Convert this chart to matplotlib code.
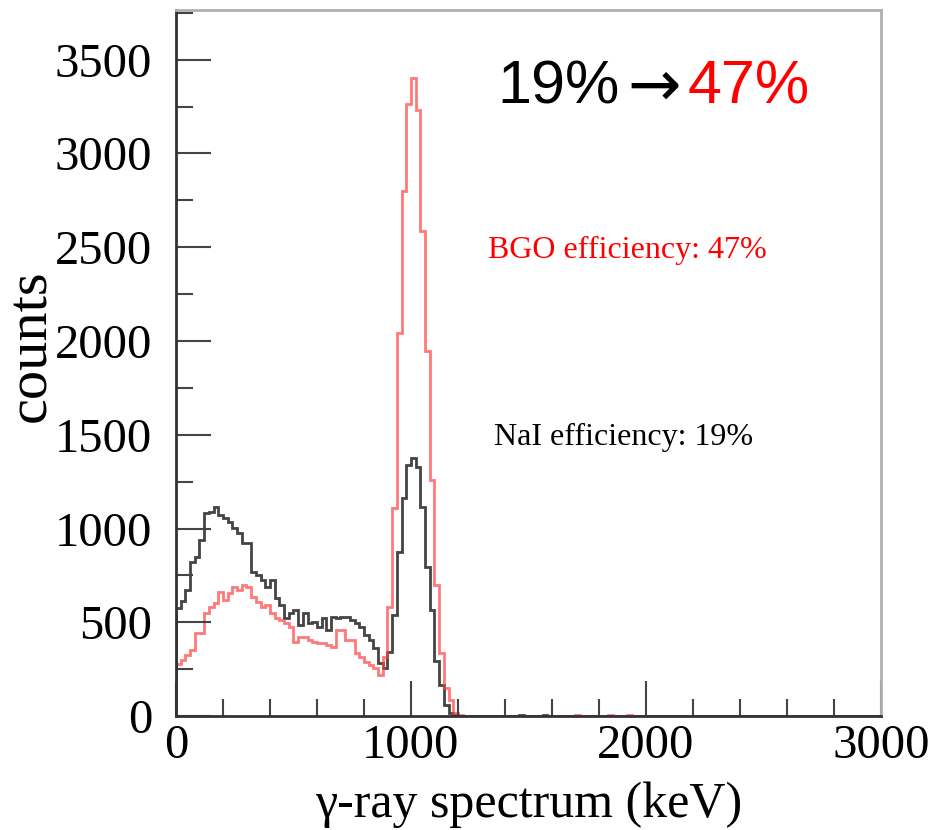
import matplotlib
matplotlib.use("Agg")
import matplotlib.pyplot as plt
import numpy as np

# 20 keV bins from 0 to 3000 keV
bin_width = 20
n_bins = 150

# counts per bin (first bins only, rest ~0)
nai_counts = [
    575, 615, 672, 824, 850, 939, 1081, 1090, 1117, 1073,
    1055, 1037, 1001, 975, 925, 925, 770, 752, 726, 690,
    726, 628, 592, 521, 548, 566, 486, 548, 495, 503,
    477, 521, 459, 530, 521, 530, 530, 512, 495, 477,
    432, 405, 361, 281, 254, 342, 539, 875, 1163, 1339,
    1377, 1329, 1116, 795, 566, 293, 165, 59, 16, 4,
]
bgo_counts = [
    280, 300, 325, 352, 441, 441, 548, 583, 601, 663,
    619, 655, 690, 672, 699, 690, 637, 610, 583, 592,
    548, 521, 512, 495, 477, 397, 423, 423, 405, 397,
    388, 388, 379, 370, 459, 459, 405, 405, 334, 317,
    290, 272, 254, 219, 315, 582, 1110, 2044, 2802, 3266,
    3400, 3234, 2588, 1948, 1259, 699, 336, 149, 85, 16,
    5,
]
# isolated single counts in the tail: (bin index, counts)
nai_tail = [(73, 6), (78, 6)]
bgo_tail = [(85, 6), (92, 6), (96, 6)]

x_ticks = [0, 1000, 2000, 3000]
y_ticks = [0, 500, 1000, 1500, 2000, 2500, 3000, 3500]


def full_hist(head, tail):
    vals = np.zeros(n_bins)
    vals[: len(head)] = head
    for i, v in tail:
        vals[i] = v
    return vals


edges = np.arange(n_bins + 1) * bin_width
nai = full_hist(nai_counts, nai_tail)
bgo = full_hist(bgo_counts, bgo_tail)

fig = plt.figure(figsize=(9.33, 8.3), dpi=100)
ax = fig.add_axes([0.1886, 0.1373, 0.7555, 0.8507])

ax.stairs(nai, edges, color="#444444", lw=2.0)
ax.stairs(bgo, edges, color="#ff4040", lw=2.0, alpha=0.7)

ax.set_xlim(0, 3000)
ax.set_ylim(0, 3765)
ax.set_xticks(x_ticks)
ax.set_yticks(y_ticks)
ax.set_xticks(np.arange(0, 3001, 200), minor=True)
ax.set_yticks(np.arange(0, 3751, 250), minor=True)

serif = ["Liberation Serif", "DejaVu Serif"]
for lab in ax.get_xticklabels() + ax.get_yticklabels():
    lab.set_fontfamily(serif)
    lab.set_fontsize(35)

ax.tick_params(which="both", direction="in", top=False, right=False,
               color="#444444", width=1.5)
ax.tick_params(which="major", length=25)
ax.tick_params(which="minor", length=12)
ax.tick_params(axis="x", which="major", pad=6)
ax.tick_params(axis="y", which="major", pad=17)

for side in ("left", "bottom"):
    ax.spines[side].set_color("#333333")
    ax.spines[side].set_linewidth(2)
for side in ("top", "right"):
    ax.spines[side].set_color("#b0b0b0")
    ax.spines[side].set_linewidth(2)

ax.set_xlabel("\u03b3-ray spectrum (keV)", family=serif, fontsize=36, va="top")
ax.xaxis.set_label_coords(0.5, -0.093)
ax.set_ylabel("counts", family=serif, fontsize=42)
ax.yaxis.set_label_coords(-0.168, 0.525)

ax.text(1327, 2444, "BGO efficiency: 47%", color="red", family=serif,
        fontsize=23, ha="left", va="baseline")
ax.text(1352, 1446, "NaI efficiency: 19%", color="black", family=serif,
        fontsize=23, ha="left", va="baseline")

sans = ["Liberation Sans", "DejaVu Sans"]
base_y = 1 - 103 / 830
fig.text(497 / 933, base_y, "19%", color="black", family=sans, fontsize=44,
         ha="left", va="baseline")
fig.text(654 / 933, 1 - 81 / 830, "\u2192", color="black", family="DejaVu Sans",
         fontsize=46, ha="center", va="center_baseline")
fig.text(688 / 933, base_y, "47%", color="red", family=sans, fontsize=44,
         ha="left", va="baseline")

fig.savefig("out.png", dpi=100)
